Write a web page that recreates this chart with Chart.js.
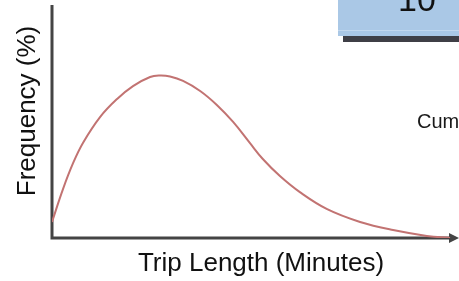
<!DOCTYPE html>
<html>
<head>
<meta charset="utf-8">
<script src="https://cdn.jsdelivr.net/npm/chart.js@4.4.1/dist/chart.umd.min.js"></script>
<style>
  html, body { margin: 0; padding: 0; background: #fff; }
  #wrap { width: 459px; height: 281px; position: relative; }
</style>
</head>
<body>
<div id="wrap"><canvas id="grafico"></canvas></div>
<script>
// valores (escala arbitraria 0-100)
const minutos = [0, 2.7, 5.2, 7.6, 11.8, 16, 19.9, 24.1, 26.5, 29, 32.2, 36.4, 40.5, 44.5, 48.6, 51.8, 56, 60.9, 67.6, 75.7, 83.8, 92.1, 97.8];
const frequencia = [6.9, 21, 32.2, 40.8, 51.9, 59.7, 65.2, 69.1, 69.7, 69.3, 67.4, 63.1, 57.1, 49.8, 40.8, 33.9, 26.6, 19.7, 12.4, 6.9, 3.4, 0.9, 0];
const tituloX = 'Trip Length (Minutes)';
const tituloY = 'Frequency (%)';

const fonte = '"Liberation Sans", Arial, sans-serif';

// eixos, setas, textos e recortes da figura original
const decoracao = {
    id: 'decoracao',
    beforeDatasetsDraw(chart) {
        const ctx = chart.ctx;
        const x = chart.scales.x, y = chart.scales.y;
        const x0 = x.getPixelForValue(0), y0 = y.getPixelForValue(0);
        ctx.save();

        // caixa azul no canto
        ctx.fillStyle = '#3f3f46';
        ctx.fillRect(343, 36, 116, 6);
        ctx.fillStyle = '#aac8e6';
        ctx.fillRect(338, 0, 121, 36);
        ctx.fillStyle = '#c3d8ee';
        ctx.fillRect(338, 30, 121, 1);
        ctx.fillStyle = '#111';
        ctx.font = '34px ' + fonte;
        ctx.textBaseline = 'alphabetic';
        ctx.fillText('10', 398, 11);

        ctx.fillStyle = '#1a1a1a';
        ctx.font = '20px ' + fonte;
        ctx.fillText('Cum', 417, 128);

        // eixos
        ctx.strokeStyle = '#444';
        ctx.lineWidth = 3;
        ctx.beginPath();
        ctx.moveTo(x0, y.getPixelForValue(100));
        ctx.lineTo(x0, y0);
        ctx.lineTo(451, y0);
        ctx.stroke();
        ctx.fillStyle = '#444';
        ctx.beginPath();
        ctx.moveTo(449, y0 - 5);
        ctx.lineTo(459, y0);
        ctx.lineTo(449, y0 + 5);
        ctx.closePath();
        ctx.fill();

        // titulos
        ctx.fillStyle = '#111';
        ctx.font = '26px ' + fonte;
        ctx.textAlign = 'center';
        ctx.textBaseline = 'alphabetic';
        ctx.fillText(tituloX, 261, 271);
        ctx.translate(35, 111);
        ctx.rotate(-Math.PI / 2);
        ctx.fillText(tituloY, 0, 0);
        ctx.restore();
    }
};

const ctx = document.getElementById('grafico').getContext('2d');
const chart = new Chart(ctx, {
    type: 'line',
    data: {
        labels: minutos,
        datasets: [{
            data: minutos.map((m, i) => ({ x: m, y: frequencia[i] })),
            borderColor: '#c27372',
            borderWidth: 2,
            pointRadius: 0,
            tension: 0.4,
            fill: false
        }]
    },
    options: {
        responsive: true,
        maintainAspectRatio: false,
        animation: false,
        layout: { padding: { left: 52, right: 0, top: 5, bottom: 43 } },
        plugins: { legend: { display: false }, tooltip: { enabled: false } },
        scales: {
            x: { type: 'linear', min: 0, max: 100, display: false },
            y: { min: 0, max: 100, display: false }
        }
    },
    plugins: [decoracao]
});
</script>
</body>
</html>
